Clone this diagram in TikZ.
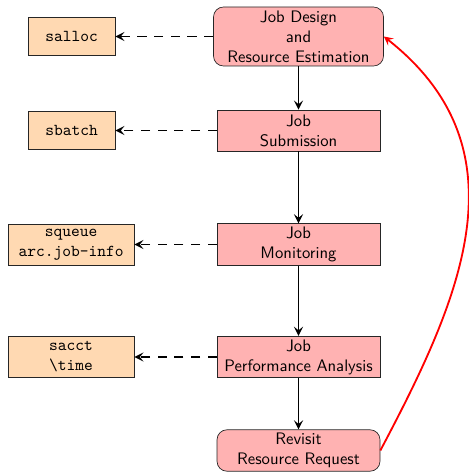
\documentclass[tikz,border=0pt]{standalone}
\usetikzlibrary{arrows.meta}
\begin{document}
\begin{tikzpicture}[x=0.6pt,y=-0.6pt,
  font=\sffamily,
  stage/.style={draw=black!85, fill=red!30, align=center, minimum width=97.8pt, inner sep=2pt},
  stageround/.style={stage, rounded corners=6pt},
  tool/.style={draw=black!85, fill=orange!30, align=center, font=\ttfamily, inner sep=2pt},
  tip/.style={-{Stealth[length=5.5pt,width=5.5pt,inset=2.2pt]}},
  flow/.style={tip, line width=1.15pt, black},
  uses/.style={tip, line width=1.15pt, dash pattern=on 5.5pt off 4.5pt, black},
  loop/.style={tip, line width=1.1pt, red}]
\useasboundingbox (0,0) rectangle (468,472);

% workflow stages
\node[stageround, minimum width=102pt, minimum height=35.4pt] (design) at (298.5,36.5) {Job Design\\and\\Resource Estimation};
\node[stage, minimum height=24.6pt] (submit) at (298.5,130.5) {Job\\Submission};
\node[stage, minimum height=24.6pt] (monitor) at (298.5,244.5) {Job\\Monitoring};
\node[stage, minimum height=24.6pt] (perf) at (298.5,357) {Job\\Performance Analysis};
\node[stageround, minimum height=24.6pt] (revisit) at (298.5,450.5) {Revisit\\Resource Request};

% commands used at each stage
\node[tool, minimum width=52.2pt, minimum height=22.8pt] (salloc) at (71.5,36.5) {salloc};
\node[tool, minimum width=52.2pt, minimum height=22.8pt] (sbatch) at (71.5,130.5) {sbatch};
\node[tool, minimum width=75.6pt, minimum height=24.6pt] (squeue) at (71,244.5) {squeue\\arc.job-info};
\node[tool, minimum width=75.6pt, minimum height=24.6pt] (sacct) at (71,357) {sacct\\\textbackslash time};

% main flow
\draw[flow] (design) -- (submit);
\draw[flow] (submit) -- (monitor);
\draw[flow] (monitor) -- (perf);
\draw[flow] (perf) -- (revisit);

% tools
\draw[uses] (design) -- (salloc);
\draw[uses] (submit) -- (sbatch);
\draw[uses] (monitor) -- (squeue);
\draw[uses] (perf) -- (sacct);

% feedback loop
\draw[loop] (revisit.east) .. controls (460,300) and (528,150) .. (design.east);
\end{tikzpicture}
\end{document}
